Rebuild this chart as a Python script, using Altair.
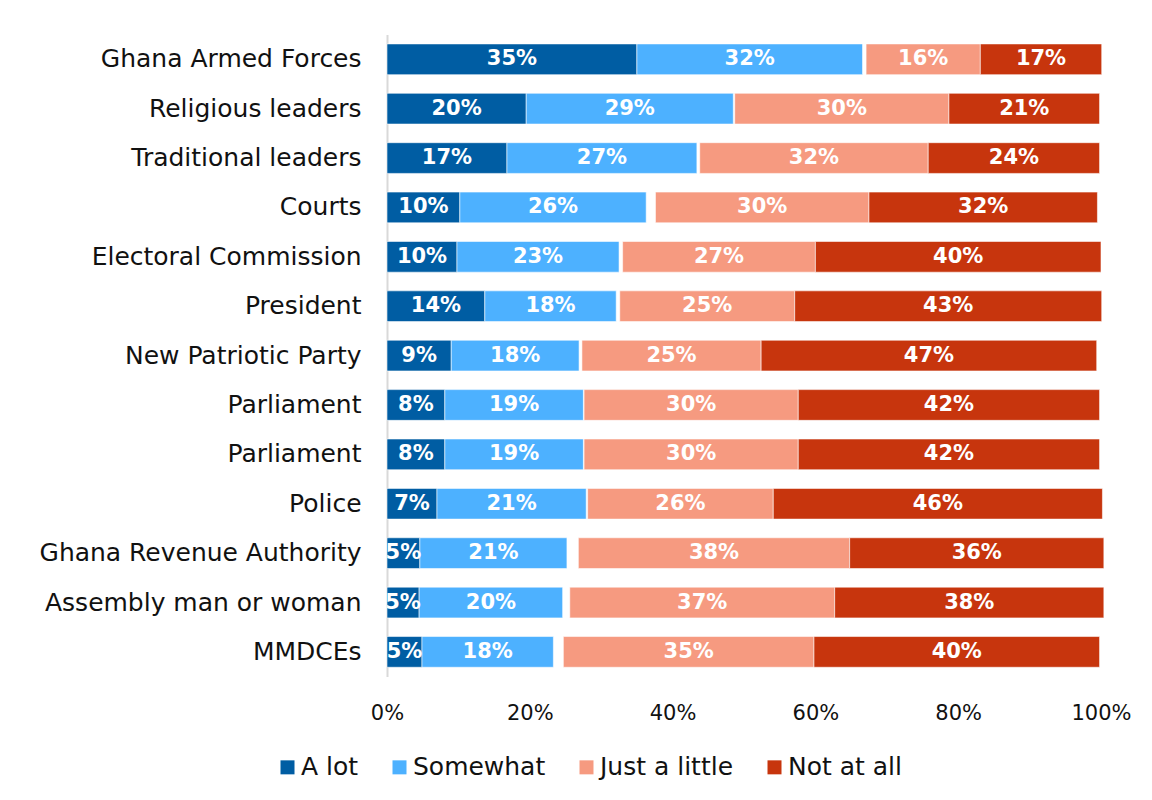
import json
import altair as alt
import pandas as pd

institutions = [
    "Ghana Armed Forces", "Religious leaders", "Traditional leaders", "Courts",
    "Electoral Commission", "President", "New Patriotic Party", "Parliament",
    "Parliament", "Police", "Ghana Revenue Authority", "Assembly man or woman",
    "MMDCEs",
]
categories = ["A lot", "Somewhat", "Just a little", "Not at all"]
colors = ["#005DA3", "#4DB1FF", "#F69A80", "#C7350D"]

# segment widths (percent)
a_lot =         [35.0, 19.5, 16.8, 10.2, 9.8, 13.7, 9.0, 8.1, 8.1, 7.0, 4.6, 4.5, 4.9]
somewhat =      [31.6, 29.0, 26.6, 26.1, 22.7, 18.4, 17.9, 19.4, 19.4, 20.9, 20.6, 20.1, 18.4]
dont_know =     [0.5, 0.2, 0.4, 1.3, 0.5, 0.5, 0.4, 0.1, 0.1, 0.2, 1.6, 1.0, 1.4]
just_a_little = [16.0, 30.0, 32.0, 29.9, 27.0, 24.5, 25.1, 30.0, 30.0, 26.0, 38.0, 37.1, 35.1]
not_at_all =    [17.0, 21.1, 24.0, 32.0, 40.0, 43.0, 47.0, 42.2, 42.2, 46.1, 35.6, 37.7, 40.0]

# printed labels
lbl_a_lot =    [35, 20, 17, 10, 10, 14, 9, 8, 8, 7, 5, 5, 5]
lbl_somewhat = [32, 29, 27, 26, 23, 18, 18, 19, 19, 21, 21, 20, 18]
lbl_little =   [16, 30, 32, 30, 27, 25, 25, 30, 30, 26, 38, 37, 35]
lbl_not =      [17, 21, 24, 32, 40, 43, 47, 42, 42, 46, 36, 38, 40]

rows = []
for i in range(len(institutions)):
    segs = [
        ("A lot", a_lot[i], lbl_a_lot[i]),
        ("Somewhat", somewhat[i], lbl_somewhat[i]),
        (None, dont_know[i], None),
        ("Just a little", just_a_little[i], lbl_little[i]),
        ("Not at all", not_at_all[i], lbl_not[i]),
    ]
    start = 0.0
    for cat, w, lab in segs:
        if cat is not None:
            rows.append({"row": i, "cat": cat, "start": start, "end": start + w,
                         "mid": start + w / 2, "label": f"{lab}%",
                         "order": categories.index(cat)})
        start += w
df = pd.DataFrame(rows)

label_expr = json.dumps(institutions) + "[datum.value]"
FONT = "DejaVu Sans"

y = alt.Y("row:O", sort="ascending", title=None,
          scale=alt.Scale(paddingInner=0.378, paddingOuter=0.189),
          axis=alt.Axis(labelExpr=label_expr, labelFontSize=25, labelFont=FONT,
                        labelColor="#111111", labelPadding=26, ticks=False,
                        domain=True, domainColor="#d9d9d9", domainWidth=2,
                        grid=False, labelLimit=500))

x = alt.X("start:Q", title=None,
          scale=alt.Scale(domain=[0, 100], nice=False, clamp=False),
          axis=alt.Axis(values=[0, 20, 40, 60, 80, 100], labelExpr="datum.value + '%'",
                        labelFontSize=21, labelFont=FONT, labelColor="#111111",
                        labelFlush=False, labelPadding=26, ticks=False,
                        domain=False, grid=False))

bars = alt.Chart(df).mark_bar(stroke="#ffffff", strokeWidth=0.8, strokeOpacity=0.7).encode(
    x=x,
    x2="end:Q",
    y=y,
    color=alt.Color("cat:N", title=None,
                    scale=alt.Scale(domain=categories, range=colors),
                    sort=categories,
                    legend=alt.Legend(orient="none", direction="horizontal",
                                      legendX=-112, legendY=720,
                                      symbolType="square", symbolSize=196,
                                      symbolStrokeWidth=0, labelFontSize=25,
                                      labelFont=FONT, labelColor="#111111",
                                      columnPadding=28, labelOffset=1, padding=0,
                                      columns=4)),
)

texts = alt.Chart(df).mark_text(color="white", fontWeight="bold", fontSize=21,
                                font=FONT, clip=True).encode(
    x=alt.X("mid:Q"),
    y=alt.Y("row:O", sort="ascending"),
    text="label:N",
)

chart = alt.layer(bars, texts).properties(
    width=714, height=642,
    padding={"left": 379, "top": 26.6, "right": 40, "bottom": 110},
    autosize=alt.AutoSizeParams(type="none"),
).configure(font=FONT).configure_view(stroke=None, strokeWidth=0)

chart.save("out.html", embed_options={"renderer": "svg", "actions": False})
